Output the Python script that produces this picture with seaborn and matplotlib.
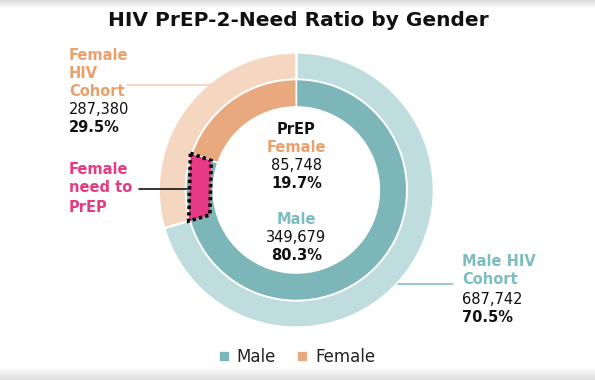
import numpy as np
import matplotlib
matplotlib.use("Agg")
import matplotlib.pyplot as plt
from matplotlib.patches import Polygon
import seaborn as sns

# ---- data ----
genders = ["Male", "Female"]
cohort_values = [687742, 287380]     # outer ring: HIV cohort
prep_values = [349679, 85748]        # inner ring: PrEP
cohort_pct = ["70.5%", "29.5%"]
prep_pct = ["80.3%", "19.7%"]

# colours
outer_colors = ["#bfdcde", "#f4d6c1"]
inner_colors = ["#7cb6b8", "#e9a97e"]
teal_text = "#7dbcbf"
peach_text = "#eba06c"
pink = "#e63a84"

sns.set_theme(style="white")
plt.rcParams["font.family"] = ["DejaVu Sans"]

W, H = 595, 380
fig = plt.figure(figsize=(W / 100, H / 100), dpi=100)
ax = fig.add_axes([0, 0, 1, 1])

# donut geometry in pixel units (y measured from bottom)
cx, cy = 296.3, H - 190.0
r_outer, r_mid, r_inner = 137.5, 111.0, 83.5

ax.pie(cohort_values, radius=r_outer, center=(cx, cy), startangle=90,
       counterclock=False, colors=outer_colors,
       wedgeprops=dict(width=r_outer - r_mid + 0.5, edgecolor="white", linewidth=1.6))
inner_wedges, _ = ax.pie(prep_values, radius=r_mid - 0.5, center=(cx, cy), startangle=90,
                         counterclock=False, colors=inner_colors,
                         wedgeprops=dict(width=r_mid - r_inner, edgecolor="white", linewidth=1.2))

# the "need" gap: female share of cohort minus female share of PrEP
f_prep = prep_values[1] / sum(prep_values)
f_cohort = cohort_values[1] / sum(cohort_values)
a0 = np.deg2rad(90 + 360 * f_prep)
a1 = np.deg2rad(90 + 360 * f_cohort)
rb_out, rb_in = 112.0, 90.0
corners = [(cx + r * np.cos(a), cy + r * np.sin(a))
           for a, r in [(a0, rb_out), (a0, rb_in), (a1, rb_in), (a1, rb_out)]]
ax.add_patch(Polygon(corners, closed=True, facecolor=pink, edgecolor="black",
                     linewidth=2.6, linestyle=(0, (0.9, 0.9)), zorder=5))

ax.set_xlim(0, W)
ax.set_ylim(0, H)
ax.set_aspect("auto")
ax.axis("off")

# card shadows top and bottom
top_grad = np.linspace(0.86, 1.0, 20).reshape(-1, 1)
ax.imshow(top_grad, extent=(0, W, H - 9, H), cmap="gray", vmin=0, vmax=1,
          aspect="auto", zorder=0)
bot_grad = np.linspace(1.0, 0.87, 20).reshape(-1, 1)
ax.imshow(bot_grad, extent=(0, W, 0, 14), cmap="gray", vmin=0, vmax=1,
          aspect="auto", zorder=0)

fs = 10.5


def txt(x, y, s, color="#111111", bold=False, ha="left", size=fs):
    ax.text(x, H - y, s, color=color, fontsize=size, ha=ha, va="center",
            fontweight="bold" if bold else "normal", zorder=6)


# title
txt(298, 21, "HIV PrEP-2-Need Ratio by Gender", bold=True, ha="center", size=14.5)

# female cohort label
txt(69, 56, "Female", peach_text, True)
txt(69, 74, "HIV", peach_text, True)
txt(69, 92, "Cohort", peach_text, True)
txt(69, 110, f"{cohort_values[1]:,}")
txt(69, 128, cohort_pct[1], bold=True)
ax.plot([127, 212], [H - 85, H - 85], color="#f2ceb5", lw=1.1, zorder=4)

# female need label
txt(69, 170, "Female", pink, True)
txt(69, 188, "need to", pink, True)
txt(69, 207, "PrEP", pink, True)
ax.plot([139, 187], [H - 189, H - 189], color="black", lw=1.1, zorder=4)

# male cohort label
txt(462, 262, "Male HIV", teal_text, True)
txt(462, 280, "Cohort", teal_text, True)
txt(462, 299, f"{cohort_values[0]:,}")
txt(462, 317, cohort_pct[0], bold=True)
ax.plot([398, 453], [H - 283.5, H - 283.5], color=teal_text, lw=1.1, zorder=4)

# centre labels
txt(cx, 130, "PrEP", bold=True, ha="center")
txt(cx, 148, "Female", peach_text, True, ha="center")
txt(cx, 166, f"{prep_values[1]:,}", ha="center")
txt(cx, 184, prep_pct[1], bold=True, ha="center")
txt(cx, 220, "Male", teal_text, True, ha="center")
txt(cx, 238, f"{prep_values[0]:,}", ha="center")
txt(cx, 256, prep_pct[0], bold=True, ha="center")

# legend
fig.legend(inner_wedges, genders, loc="center", bbox_to_anchor=(297 / W, 1 - 357 / H),
           ncol=2, frameon=False, fontsize=12, handlelength=0.65, handleheight=0.65,
           handletextpad=0.4, columnspacing=1.3, labelcolor="#222222")

fig.savefig("out.png", dpi=100)
